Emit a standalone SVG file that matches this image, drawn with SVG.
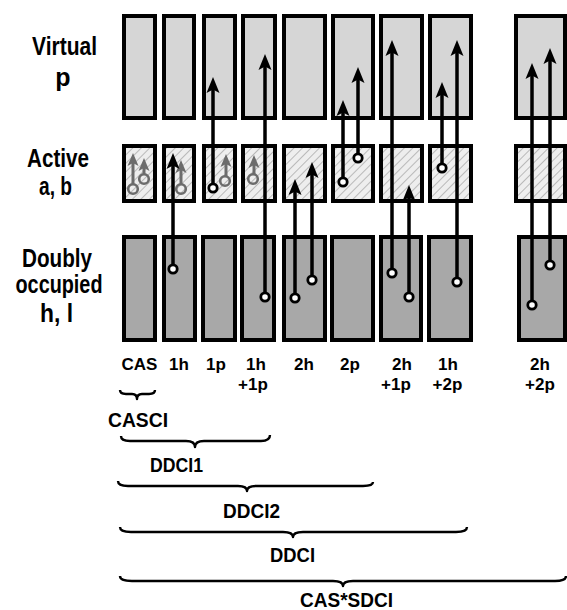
<svg xmlns="http://www.w3.org/2000/svg" xmlns:xlink="http://www.w3.org/1999/xlink" width="567" height="610" viewBox="0 0 567 610">
<style>
.box{stroke:#000;stroke-width:4}
.virt{fill:#d6d6d6}
.act{fill:url(#hatch)}
.occ{fill:#a8a8a8}
.lbl{font-family:"Liberation Sans",Arial,sans-serif;font-weight:bold;fill:#000;text-anchor:middle}
.big{font-size:25px}
.col{font-size:17px}
.grp{font-size:21px}
.bl{stroke:#000;stroke-width:3.5;fill:none}
.gl{stroke:#6c6c6c;stroke-width:3;fill:none}
.tail{fill:#fff;stroke:#000;stroke-width:2.8}
.gtail{fill:none;stroke:#6c6c6c;stroke-width:2.6}
.brace{fill:none;stroke:#000;stroke-width:2.4;stroke-linejoin:round}
</style>
<defs>
<pattern id="hatch" width="6" height="6" patternUnits="userSpaceOnUse" patternTransform="rotate(45)">
<rect width="6" height="6" fill="#eeeeee"/>
<line x1="0" y1="0" x2="0" y2="6" stroke="#9c9c9c" stroke-width="1.3"/>
</pattern>
<path id="ah" d="M0,0 L6.5,16 L0,12.5 L-6.5,16 Z" fill="#000"/>
<path id="gah" d="M0,0 L5.5,13 L0,10 L-5.5,13 Z" fill="#6c6c6c"/>
</defs>
<rect width="567" height="610" fill="#fff"/>

<g id="row-labels">
<text class="lbl big" x="64.5" y="55" textLength="65" lengthAdjust="spacingAndGlyphs">Virtual</text>
<text class="lbl big" x="63" y="86">p</text>
<text class="lbl big" x="58" y="167" textLength="62" lengthAdjust="spacingAndGlyphs">Active</text>
<text class="lbl big" x="55.5" y="195" textLength="33" lengthAdjust="spacingAndGlyphs">a, b</text>
<text class="lbl big" x="57" y="267" textLength="70" lengthAdjust="spacingAndGlyphs">Doubly</text>
<text class="lbl big" x="59" y="293" textLength="87" lengthAdjust="spacingAndGlyphs">occupied</text>
<text class="lbl big" x="56.5" y="322" textLength="33" lengthAdjust="spacingAndGlyphs">h, l</text>
</g>

<g id="col-CAS">
<rect class="box virt" x="124" y="16" width="31" height="102"/>
<rect class="box act" x="124" y="146" width="31" height="55"/>
<rect class="box occ" x="124" y="237" width="31" height="103"/>
</g>
<g id="col-1h">
<rect class="box virt" x="164" y="16" width="30" height="102"/>
<rect class="box act" x="164" y="146" width="30" height="55"/>
<rect class="box occ" x="164" y="237" width="31" height="103"/>
</g>
<g id="col-1p">
<rect class="box virt" x="204" y="16" width="31" height="102"/>
<rect class="box act" x="204" y="146" width="31" height="55"/>
<rect class="box occ" x="203" y="237" width="32" height="103"/>
</g>
<g id="col-1h1p">
<rect class="box virt" x="243" y="16" width="32" height="102"/>
<rect class="box act" x="243" y="146" width="32" height="55"/>
<rect class="box occ" x="242" y="237" width="32" height="103"/>
</g>
<g id="col-2h">
<rect class="box virt" x="284" y="16" width="41" height="102"/>
<rect class="box act" x="284" y="146" width="41" height="55"/>
<rect class="box occ" x="284" y="237" width="41" height="103"/>
</g>
<g id="col-2p">
<rect class="box virt" x="333" y="16" width="40" height="102"/>
<rect class="box act" x="333" y="146" width="40" height="55"/>
<rect class="box occ" x="332" y="237" width="41" height="103"/>
</g>
<g id="col-2h1p">
<rect class="box virt" x="381" y="16" width="41" height="102"/>
<rect class="box act" x="381" y="146" width="41" height="55"/>
<rect class="box occ" x="381" y="237" width="40" height="103"/>
</g>
<g id="col-1h2p">
<rect class="box virt" x="430" y="16" width="41" height="102"/>
<rect class="box act" x="430" y="146" width="41" height="55"/>
<rect class="box occ" x="429" y="237" width="42" height="103"/>
</g>
<g id="col-2h2p">
<rect class="box virt" x="516" y="16" width="49" height="102"/>
<rect class="box act" x="516" y="146" width="49" height="55"/>
<rect class="box occ" x="519" y="237" width="46" height="103"/>
</g>

<g id="connectors">
<!-- grey active-active excitations -->
<line class="gl" x1="133" y1="184" x2="133" y2="163"/><use xlink:href="#gah" x="133" y="153"/><circle class="gtail" cx="133" cy="189" r="4.8"/>
<line class="gl" x1="144" y1="174" x2="144" y2="168"/><use xlink:href="#gah" x="144" y="158"/><circle class="gtail" cx="144" cy="179" r="4.8"/>
<line class="gl" x1="181" y1="184" x2="181" y2="170"/><use xlink:href="#gah" x="181" y="160"/><circle class="gtail" cx="181" cy="189" r="4.8"/>
<line class="gl" x1="226" y1="176" x2="226" y2="164"/><use xlink:href="#gah" x="226" y="154"/><circle class="gtail" cx="225" cy="181" r="4.8"/>
<line class="gl" x1="254" y1="174" x2="254" y2="165"/><use xlink:href="#gah" x="254" y="155"/><circle class="gtail" cx="253" cy="179" r="4.8"/>
<!-- black excitations -->
<line class="bl" x1="173" y1="269" x2="173" y2="165"/><use xlink:href="#ah" x="173" y="153"/><circle class="tail" cx="173" cy="269" r="4.2"/>
<line class="bl" x1="213" y1="188" x2="213" y2="89"/><use xlink:href="#ah" x="213" y="77"/><circle class="tail" cx="213" cy="188" r="4.2"/>
<line class="bl" x1="265" y1="297" x2="265" y2="66"/><use xlink:href="#ah" x="265" y="54"/><circle class="tail" cx="265" cy="297" r="4.2"/>
<line class="bl" x1="295" y1="298" x2="295" y2="191"/><use xlink:href="#ah" x="295" y="179"/><circle class="tail" cx="295" cy="298" r="4.2"/>
<line class="bl" x1="312" y1="280" x2="312" y2="174"/><use xlink:href="#ah" x="312" y="162"/><circle class="tail" cx="312" cy="280" r="4.2"/>
<line class="bl" x1="343" y1="182" x2="343" y2="112"/><use xlink:href="#ah" x="343" y="100"/><circle class="tail" cx="343" cy="182" r="4.2"/>
<line class="bl" x1="358" y1="158" x2="358" y2="79"/><use xlink:href="#ah" x="358" y="67"/><circle class="tail" cx="358" cy="158" r="4.2"/>
<line class="bl" x1="392" y1="273" x2="392" y2="52"/><use xlink:href="#ah" x="392" y="40"/><circle class="tail" cx="392" cy="273" r="4.2"/>
<line class="bl" x1="409" y1="297" x2="409" y2="197"/><use xlink:href="#ah" x="409" y="185"/><circle class="tail" cx="409" cy="297" r="4.2"/>
<line class="bl" x1="442" y1="168" x2="442" y2="94"/><use xlink:href="#ah" x="442" y="82"/><circle class="tail" cx="442" cy="168" r="4.2"/>
<line class="bl" x1="457" y1="282" x2="457" y2="52"/><use xlink:href="#ah" x="457" y="40"/><circle class="tail" cx="457" cy="282" r="4.2"/>
<line class="bl" x1="532" y1="305" x2="532" y2="75"/><use xlink:href="#ah" x="532" y="63"/><circle class="tail" cx="532" cy="305" r="4.2"/>
<line class="bl" x1="550" y1="265" x2="550" y2="60"/><use xlink:href="#ah" x="550" y="48"/><circle class="tail" cx="550" cy="265" r="4.2"/>
</g>

<g id="col-labels">
<text class="lbl col" x="139.5" y="370">CAS</text>
<text class="lbl col" x="179" y="370">1h</text>
<text class="lbl col" x="216" y="370">1p</text>
<text class="lbl col" x="256" y="370">1h</text>
<text class="lbl col" x="253" y="390">+1p</text>
<text class="lbl col" x="304" y="370">2h</text>
<text class="lbl col" x="350" y="370">2p</text>
<text class="lbl col" x="402" y="370">2h</text>
<text class="lbl col" x="396" y="390">+1p</text>
<text class="lbl col" x="448" y="370">1h</text>
<text class="lbl col" x="447.5" y="390">+2p</text>
<text class="lbl col" x="540" y="370">2h</text>
<text class="lbl col" x="540" y="390">+2p</text>
</g>

<g id="braces">
<path class="brace" d="M120,390 Q120,394 126,394 L132,394 Q137,394 137,399 Q137,394 142,394 L149,394 Q155,394 155,390"/>
<path class="brace" d="M121,436 Q121,441 130,441 L186,441 Q195,441 195,447 Q195,441 204,441 L261,441 Q270,441 270,435"/>
<path class="brace" d="M118,481 Q118,486 128,486 L238,486 Q247,486 247,491 Q247,486 256,486 L363,486 Q373,486 373,482"/>
<path class="brace" d="M120,527 Q120,532 131,532 L283,532 Q293,532 293,537 Q293,532 303,532 L456,532 Q467,532 467,527"/>
<path class="brace" d="M120,576 Q120,581 132,581 L333,581 Q343,581 343,586 Q343,581 353,581 L555,581 Q566,581 566,576"/>
</g>

<g id="group-labels">
<text class="lbl grp" x="138" y="427" textLength="60" lengthAdjust="spacingAndGlyphs">CASCI</text>
<text class="lbl grp" x="176.5" y="472" textLength="53" lengthAdjust="spacingAndGlyphs">DDCI1</text>
<text class="lbl grp" x="251.5" y="518" textLength="57" lengthAdjust="spacingAndGlyphs">DDCI2</text>
<text class="lbl grp" x="292.5" y="562" textLength="45" lengthAdjust="spacingAndGlyphs">DDCI</text>
<text class="lbl grp" x="346.5" y="607" textLength="93" lengthAdjust="spacingAndGlyphs">CAS*SDCI</text>
</g>
</svg>
